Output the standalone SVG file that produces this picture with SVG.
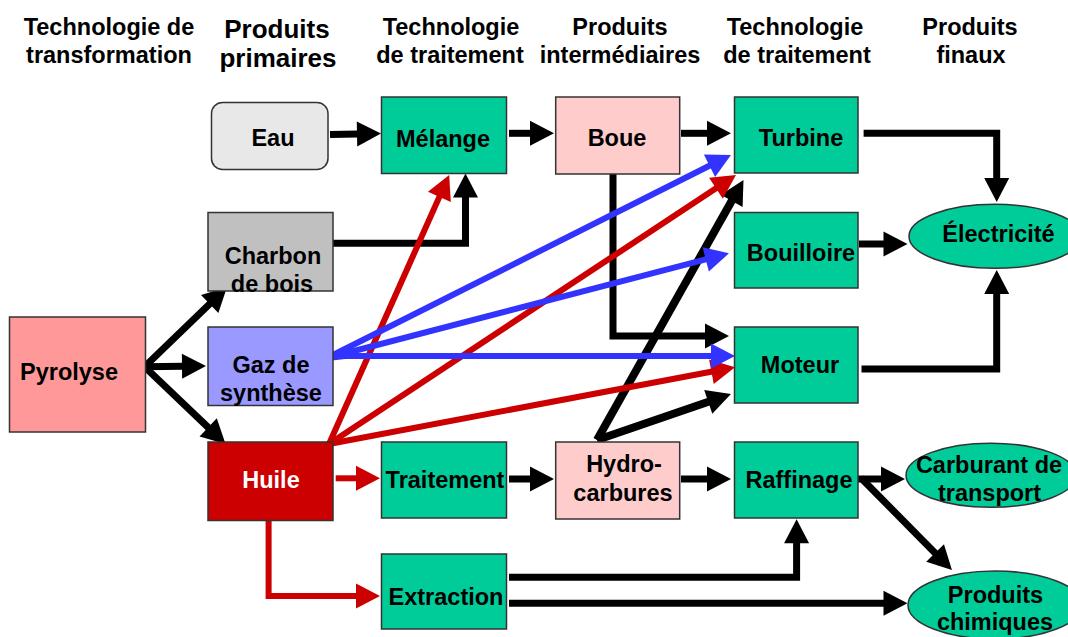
<svg xmlns="http://www.w3.org/2000/svg" width="1068" height="637" viewBox="0 0 1068 637">
  <style>
    text { font-family: "Liberation Sans", Arial, sans-serif; font-weight: bold; text-anchor: middle; fill: #000; }
    .hdr { font-size: 23.5px; }
    .hdr2 { font-size: 26px; }
    .lbl { font-size: 23.5px; }
    .box { stroke: #333; stroke-width: 1.5; }
    .green { fill: #00CC99; }
    .pink { fill: #FFCCCC; }
    .blk { fill: none; stroke: #000; stroke-width: 7; marker-end: url(#ahBlack); }
    .thick { stroke-width: 8; }
    .red { fill: none; stroke: #CC0000; stroke-width: 6; marker-end: url(#ahRed); }
    .blue { fill: none; stroke: #3333FF; stroke-width: 6; marker-end: url(#ahBlue); }
  </style>
  <defs>
    <marker id="ahBlack" markerUnits="userSpaceOnUse" markerWidth="25" markerHeight="25" refX="1" refY="12.5" orient="auto" overflow="visible">
      <path d="M0,0 L24,12.5 L0,25 z" fill="#000"/>
    </marker>
    <marker id="ahRed" markerUnits="userSpaceOnUse" markerWidth="25" markerHeight="25" refX="1" refY="12.5" orient="auto" overflow="visible">
      <path d="M0,0 L24,12.5 L0,25 z" fill="#CC0000"/>
    </marker>
    <marker id="ahBlue" markerUnits="userSpaceOnUse" markerWidth="25" markerHeight="25" refX="1" refY="12.5" orient="auto" overflow="visible">
      <path d="M0,0 L24,12.5 L0,25 z" fill="#3333FF"/>
    </marker>
  </defs>

  <rect width="1068" height="637" fill="#fff"/>

  <!-- Column headings -->
  <g id="headers">
    <text class="hdr" x="109" y="35">Technologie de</text>
    <text class="hdr" x="109" y="63">transformation</text>
    <text class="hdr2" x="277" y="38">Produits</text>
    <text class="hdr2" x="278" y="67">primaires</text>
    <text class="hdr" x="451" y="35">Technologie</text>
    <text class="hdr" x="450" y="63">de traitement</text>
    <text class="hdr" x="620" y="35">Produits</text>
    <text class="hdr" x="620" y="63">intermédiaires</text>
    <text class="hdr" x="795" y="35">Technologie</text>
    <text class="hdr" x="797" y="63">de traitement</text>
    <text class="hdr" x="970" y="35">Produits</text>
    <text class="hdr" x="971" y="63">finaux</text>
  </g>

  <!-- Connectors -->
  <g id="connectors">
    <!-- pyrolysis fan-out -->
    <path class="blk" d="M144.6,366.7 L210.4,303.3"/>
    <path class="blk" d="M144.6,366.7 L183,366.3"/>
    <path class="blk" d="M144.6,366.7 L208.9,428.1"/>
    <!-- water, charcoal, mixing, slurry -->
    <path class="blk" d="M330,134.5 L358,134"/>
    <path class="blk" d="M333,243.3 H465.5 V196.5"/>
    <path class="blk" d="M509,133.3 H531"/>
    <path class="blk" d="M681,133.3 H708"/>
    <path class="blk" d="M613,174 V336 H706"/>
    <!-- to electricity -->
    <path class="blk" d="M863.6,133.3 H996.7 V179"/>
    <path class="blk" d="M859,244 H884.5"/>
    <path class="blk" d="M861.5,369 H996.7 V293"/>
    <!-- hydrocarbons -->
    <path class="blk thick" d="M597,440 L732.2,200"/>
    <path class="blk thick" d="M597,440 L709.2,401.5"/>
    <path class="blk" d="M509,479 H531"/>
    <path class="blk" d="M681,479 H708"/>
    <!-- refining outputs -->
    <path class="blk" d="M858,479 H882"/>
    <path class="blk" d="M861,478 L935.8,553.7"/>
    <!-- extraction -->
    <path class="blk" d="M509,577.3 H796.6 V542.3"/>
    <path class="blk" d="M509,603.3 H884.5"/>
    <!-- oil (red) -->
    <path class="red" d="M335.7,478.3 H357"/>
    <path class="red" d="M268.6,521 V596 H357"/>
    <path class="red" d="M329,444 L439.8,195.9"/>
    <path class="red" d="M329,444 L716.8,187.7"/>
    <path class="red" d="M329,444 L712.4,371.5"/>
    <!-- syngas (blue) -->
    <path class="blue" d="M327,358 L710.4,165.3"/>
    <path class="blue" d="M327,358 L706.7,259.1"/>
    <path class="blue" d="M327,358 L345,356 H712"/>
  </g>

  <!-- Nodes -->
  <g id="pyrolyse">
    <rect class="box" x="9.5" y="317" width="136" height="115" fill="#FF9999"/>
    <text class="lbl" x="69" y="380">Pyrolyse</text>
  </g>
  <g id="eau">
    <rect class="box" x="211.5" y="102.5" width="116.5" height="67" rx="11" fill="#E8E8E8"/>
    <text class="lbl" x="273" y="146">Eau</text>
  </g>
  <g id="charbon">
    <rect class="box" x="208" y="212.5" width="125" height="78.5" fill="#C0C0C0"/>
    <text class="lbl" x="273" y="264">Charbon</text>
    <text class="lbl" x="272" y="292">de bois</text>
  </g>
  <g id="gaz">
    <rect class="box" x="208" y="327" width="125" height="78.5" fill="#9999FF"/>
    <text class="lbl" x="271" y="373">Gaz de</text>
    <text class="lbl" x="271" y="401">synthèse</text>
  </g>
  <g id="huile">
    <rect class="box" x="208" y="442" width="125" height="78.5" fill="#CC0000"/>
    <text class="lbl" x="271" y="488" style="fill:#fff">Huile</text>
  </g>
  <g id="melange">
    <rect class="box green" x="381.5" y="97" width="125" height="76.5"/>
    <text class="lbl" x="443" y="147">Mélange</text>
  </g>
  <g id="traitement">
    <rect class="box green" x="381.5" y="442" width="125" height="76"/>
    <text class="lbl" x="445" y="488">Traitement</text>
  </g>
  <g id="extraction">
    <rect class="box green" x="381.5" y="554" width="125" height="75"/>
    <text class="lbl" x="446" y="605">Extraction</text>
  </g>
  <g id="boue">
    <rect class="box pink" x="555.7" y="97" width="124" height="77"/>
    <text class="lbl" x="617" y="146">Boue</text>
  </g>
  <g id="hydrocarbures">
    <rect class="box pink" x="555.7" y="442" width="124" height="77"/>
    <text class="lbl" x="624" y="472">Hydro-</text>
    <text class="lbl" x="623" y="501">carbures</text>
  </g>
  <g id="turbine">
    <rect class="box green" x="734.5" y="97" width="123.5" height="76"/>
    <text class="lbl" x="801" y="146">Turbine</text>
  </g>
  <g id="bouilloire">
    <rect class="box green" x="734.5" y="212.5" width="123.5" height="75.5"/>
    <text class="lbl" x="801" y="261">Bouilloire</text>
  </g>
  <g id="moteur">
    <rect class="box green" x="734.5" y="327" width="123.5" height="76"/>
    <text class="lbl" x="800" y="373">Moteur</text>
  </g>
  <g id="raffinage">
    <rect class="box green" x="734.5" y="442" width="123.5" height="76"/>
    <text class="lbl" x="799" y="488">Raffinage</text>
  </g>
  <g id="electricite">
    <ellipse class="box green" cx="995" cy="236.3" rx="86" ry="32"/>
    <text class="lbl" x="998.5" y="242">Électricité</text>
  </g>
  <g id="carburant">
    <ellipse class="box green" cx="991" cy="475.3" rx="85" ry="32"/>
    <text class="lbl" x="989" y="473">Carburant de</text>
    <text class="lbl" x="989.5" y="501">transport</text>
  </g>
  <g id="chimiques">
    <ellipse class="box green" cx="995" cy="605" rx="87" ry="34"/>
    <text class="lbl" x="995.5" y="603">Produits</text>
    <text class="lbl" x="995" y="630">chimiques</text>
  </g>
</svg>
